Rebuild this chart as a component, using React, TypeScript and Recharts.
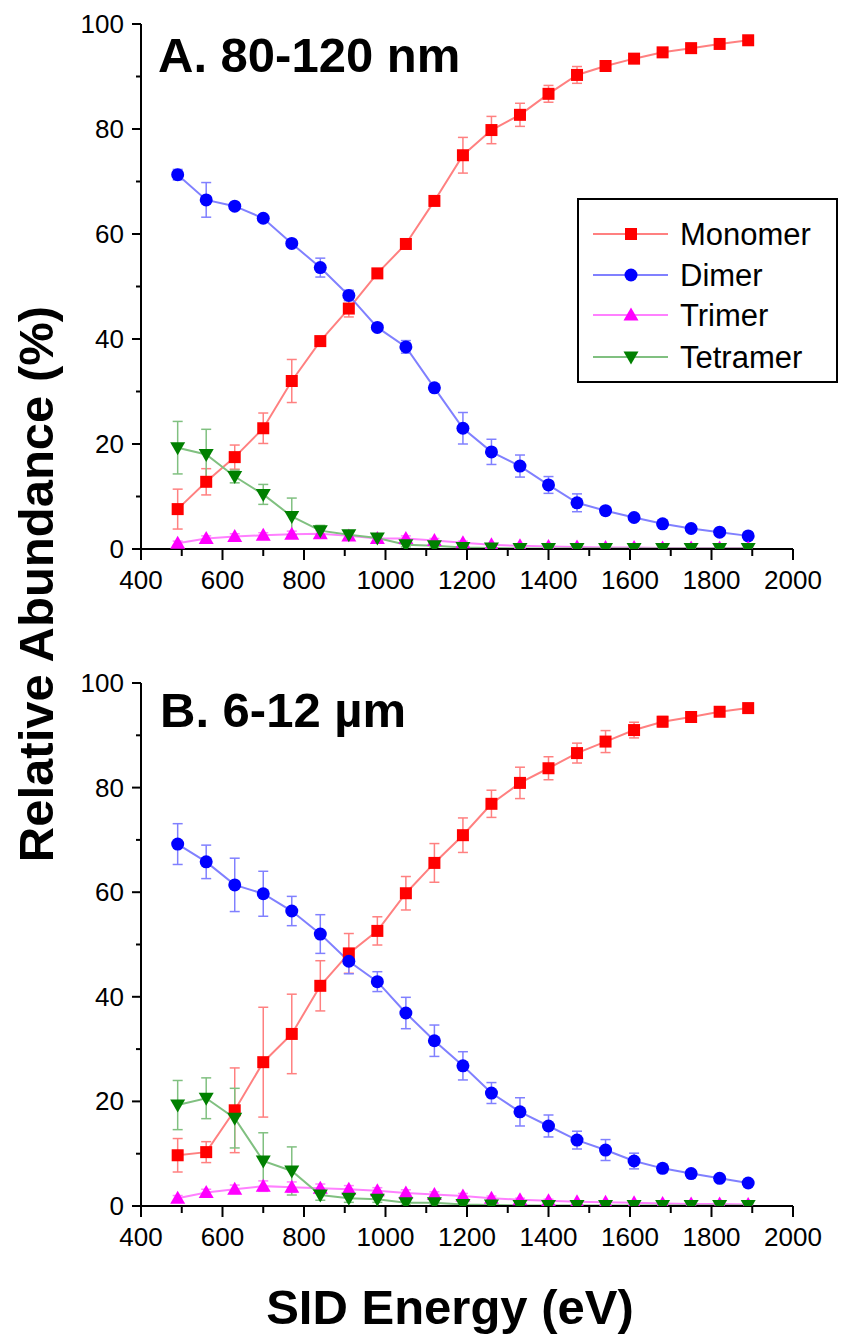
import React from 'react';
import { LineChart, Line, XAxis, YAxis, ErrorBar, Legend } from 'recharts';

// ---------- data ----------
const energies = [490, 560, 630, 700, 770, 840, 910, 980, 1050, 1120, 1190, 1260, 1330, 1400, 1470, 1540, 1610, 1680, 1750, 1820, 1890];

// Panel A: 80-120 nm
const monomerA = [7.6, 12.8, 17.5, 23.0, 32.0, 39.6, 45.8, 52.5, 58.1, 66.3, 75.0, 79.8, 82.7, 86.7, 90.3, 92.0, 93.4, 94.6, 95.4, 96.2, 96.9];
const monomerAErr = [3.8, 2.5, 2.3, 2.9, 4.1, 0.6, 1.6, 0.6, 0.6, 0.6, 3.4, 2.6, 2.2, 1.6, 1.6, 0.6, 0.6, 0.6, 0.5, 0.5, 0.4];
const dimerA = [71.3, 66.5, 65.3, 63.0, 58.2, 53.6, 48.3, 42.2, 38.5, 30.7, 23.0, 18.5, 15.8, 12.2, 8.8, 7.3, 6.0, 4.8, 3.9, 3.2, 2.5];
const dimerAErr = [1.0, 3.3, 0.6, 0.6, 0.6, 1.8, 1.0, 0.6, 1.2, 0.6, 3.0, 2.4, 2.1, 1.6, 1.7, 0.6, 0.5, 0.4, 0.4, 0.3, 0.3];
const trimerA = [1.1, 2.0, 2.4, 2.6, 2.8, 2.9, 2.5, 2.0, 2.0, 1.6, 1.2, 0.8, 0.6, 0.5, 0.4, 0.3, 0.3, 0.2, 0.2, 0.2, 0.2];
const trimerAErr = [0.4, 0.5, 0.5, 0.5, 0.6, 0.6, 0.5, 0.5, 0.5, 0.4, 0.3, 0.2, 0.2, 0.2, 0.1, 0.1, 0.1, 0.1, 0.1, 0.1, 0.1];
const tetramerA = [19.3, 18.0, 13.8, 10.4, 6.2, 3.5, 2.7, 2.1, 0.8, 0.6, 0.3, 0.2, 0.1, 0.1, 0.1, 0.1, 0.1, 0.1, 0.1, 0.1, 0.1];
const tetramerAErr = [5.0, 4.8, 1.2, 1.9, 3.5, 1.0, 0.8, 0.6, 0.4, 0.3, 0.2, 0.1, 0.1, 0.1, 0.1, 0.1, 0.1, 0.1, 0.1, 0.1, 0.1];

// Panel B: 6-12 µm
const monomerB = [9.7, 10.3, 18.3, 27.5, 32.9, 42.1, 48.3, 52.6, 59.8, 65.6, 70.9, 76.9, 80.9, 83.7, 86.6, 88.8, 91.0, 92.6, 93.5, 94.5, 95.2];
const monomerBErr = [3.2, 2.0, 8.1, 10.5, 7.6, 4.8, 3.8, 2.7, 3.2, 3.7, 3.3, 2.6, 3.0, 2.2, 1.9, 2.1, 1.5, 1.0, 0.7, 0.6, 0.5];
const dimerB = [69.2, 65.8, 61.4, 59.7, 56.4, 52.0, 46.8, 42.9, 36.9, 31.6, 26.8, 21.6, 18.0, 15.3, 12.6, 10.7, 8.6, 7.2, 6.2, 5.3, 4.4];
const dimerBErr = [3.9, 3.2, 5.1, 4.3, 2.8, 3.7, 2.4, 1.9, 3.0, 3.0, 2.7, 2.0, 2.7, 2.1, 1.7, 2.0, 1.5, 0.8, 0.6, 0.5, 0.5];
const trimerB = [1.5, 2.6, 3.2, 3.8, 3.6, 3.4, 3.2, 2.9, 2.5, 2.2, 1.9, 1.5, 1.2, 1.0, 0.8, 0.7, 0.6, 0.5, 0.4, 0.4, 0.3];
const trimerBErr = [0.5, 0.6, 0.8, 1.0, 1.0, 0.8, 0.7, 0.6, 0.6, 0.5, 0.5, 0.4, 0.3, 0.3, 0.2, 0.2, 0.2, 0.1, 0.1, 0.1, 0.1];
const tetramerB = [19.3, 20.6, 16.8, 8.6, 6.7, 2.1, 1.5, 1.3, 0.6, 0.6, 0.3, 0.2, 0.1, 0.1, 0.1, 0.1, 0.1, 0.1, 0.1, 0.1, 0.1];
const tetramerBErr = [4.7, 3.9, 5.7, 5.4, 4.6, 1.0, 0.8, 0.6, 0.4, 0.4, 0.3, 0.2, 0.1, 0.1, 0.1, 0.1, 0.1, 0.1, 0.1, 0.1, 0.1];

const xTicks = [400, 500, 600, 700, 800, 900, 1000, 1100, 1200, 1300, 1400, 1500, 1600, 1700, 1800, 1900, 2000];
const yTicks = [0, 10, 20, 30, 40, 50, 60, 70, 80, 90, 100];

const panelATitle = 'A. 80-120 nm';
const panelBTitle = 'B. 6-12 µm';
const xTitle = 'SID Energy (eV)';
const yTitle = 'Relative Abundance (%)';

// ---------- styles ----------
const FONT = '"Liberation Sans", Arial, Helvetica, sans-serif';

const seriesMeta = [
  { key: 'mono', name: 'Monomer', color: '#ff0000', line: '#ff8080', shape: 'square' },
  { key: 'di', name: 'Dimer', color: '#0000ff', line: '#8080ff', shape: 'circle' },
  { key: 'tri', name: 'Trimer', color: '#ff00ff', line: '#ff80ff', shape: 'up' },
  { key: 'tet', name: 'Tetramer', color: '#008000', line: '#80c080', shape: 'down' },
];

function buildData(mono: number[], monoE: number[], di: number[], diE: number[], tri: number[], triE: number[], tet: number[], tetE: number[]) {
  return energies.map((e, i) => ({
    e,
    mono: mono[i], monoErr: monoE[i],
    di: di[i], diErr: diE[i],
    tri: tri[i], triErr: triE[i],
    tet: tet[i], tetErr: tetE[i],
  }));
}

const dataA = buildData(monomerA, monomerAErr, dimerA, dimerAErr, trimerA, trimerAErr, tetramerA, tetramerAErr);
const dataB = buildData(monomerB, monomerBErr, dimerB, dimerBErr, trimerB, trimerBErr, tetramerB, tetramerBErr);

function Marker({ shape, cx, cy, color }: any) {
  if (cx == null || cy == null || isNaN(cx) || isNaN(cy)) return null;
  switch (shape) {
    case 'square':
      return <rect x={cx - 6} y={cy - 6} width={12} height={12} fill={color} />;
    case 'circle':
      return <circle cx={cx} cy={cy} r={6.5} fill={color} />;
    case 'up':
      return <polygon points={`${cx},${cy - 7.5} ${cx + 7.5},${cy + 5.5} ${cx - 7.5},${cy + 5.5}`} fill={color} />;
    default:
      return <polygon points={`${cx},${cy + 7.5} ${cx + 7.5},${cy - 5.5} ${cx - 7.5},${cy - 5.5}`} fill={color} />;
  }
}

const XTick = (props: any) => {
  const { x, y, payload } = props;
  const v = payload.value;
  const major = v % 200 === 0;
  return (
    <g>
      <line x1={x} x2={x} y1={y} y2={y + (major ? 11 : 7)} stroke="#000" strokeWidth={2} />
      {major && (
        <text x={x} y={y + 40} textAnchor="middle" fontSize={26} fontFamily={FONT} fill="#000">
          {v}
        </text>
      )}
    </g>
  );
};

const YTick = (props: any) => {
  const { x, y, payload } = props;
  const v = payload.value;
  const major = v % 20 === 0;
  return (
    <g>
      <line x1={x} x2={x - (major ? 9 : 5)} y1={y} y2={y} stroke="#000" strokeWidth={2} />
      {major && (
        <text x={x - 17} y={y + 9} textAnchor="end" fontSize={26} fontFamily={FONT} fill="#000">
          {v}
        </text>
      )}
    </g>
  );
};

const LegendBox = () => {
  const rows = [36, 77, 117, 159];
  return (
    <svg width={262} height={186} style={{ display: 'block' }}>
      <rect x={1} y={1} width={259} height={183} fill="#fff" stroke="#000" strokeWidth={2} />
      {seriesMeta.map((s, i) => (
        <g key={s.key}>
          <line x1={16} x2={91} y1={rows[i]} y2={rows[i]} stroke={s.line} strokeWidth={2} />
          <Marker shape={s.shape} cx={54} cy={rows[i]} color={s.color} />
          <text x={103} y={rows[i] + 11} fontSize={31} fontFamily={FONT} fill="#000">
            {s.name}
          </text>
        </g>
      ))}
    </svg>
  );
};

function Panel({ data, height, marginTop, xAxisHeight, showLegend }: any) {
  return (
    <LineChart
      width={844}
      height={height}
      data={data}
      margin={{ top: marginTop, right: 51, bottom: 0, left: 0 }}
    >
      <XAxis
        dataKey="e"
        type="number"
        domain={[400, 2000]}
        ticks={xTicks}
        interval={0}
        tickSize={0}
        tickMargin={0}
        tickLine={false}
        axisLine={{ stroke: '#000', strokeWidth: 2 }}
        height={xAxisHeight}
        tick={<XTick />}
        allowDataOverflow
      />
      <YAxis
        type="number"
        domain={[0, 100]}
        ticks={yTicks}
        interval={0}
        tickSize={0}
        tickMargin={0}
        tickLine={false}
        axisLine={{ stroke: '#000', strokeWidth: 2 }}
        width={141}
        tick={<YTick />}
        allowDataOverflow
      />
      {seriesMeta.map((s) => (
        <Line
          key={s.key}
          dataKey={s.key}
          name={s.name}
          type="linear"
          stroke={s.line}
          strokeWidth={2}
          isAnimationActive={false}
          activeDot={false}
          dot={(p: any) => <Marker key={`${s.key}-${p.index}`} shape={s.shape} cx={p.cx} cy={p.cy} color={s.color} />}
        >
          <ErrorBar dataKey={`${s.key}Err`} width={5} stroke={s.line} strokeWidth={1.5} direction="y" isAnimationActive={false} />
        </Line>
      ))}
      {showLegend && (
        <Legend
          layout="horizontal"
          verticalAlign="middle"
          align="center"
          wrapperStyle={{ position: 'absolute', left: 577, top: 198, width: 262, height: 186 }}
          content={() => <LegendBox />}
        />
      )}
    </LineChart>
  );
}

export default function App() {
  return (
    <div style={{ position: 'absolute', left: 0, top: 0, width: 844, height: 1341, background: '#fff', overflow: 'hidden' }}>
      <div style={{ position: 'absolute', left: 0, top: 0 }}>
        <Panel data={dataA} height={620} marginTop={24} xAxisHeight={71} showLegend />
      </div>
      <div style={{ position: 'absolute', left: 0, top: 620 }}>
        <Panel data={dataB} height={721} marginTop={63} xAxisHeight={135} showLegend={false} />
      </div>
      <svg width={844} height={1341} style={{ position: 'absolute', left: 0, top: 0, pointerEvents: 'none' }}>
        <text x={158} y={72} fontSize={49} fontWeight="bold" fontFamily={FONT} fill="#000">{panelATitle}</text>
        <text x={160} y={727} fontSize={49} fontWeight="bold" fontFamily={FONT} fill="#000">{panelBTitle}</text>
        <text x={450} y={1324} fontSize={49} fontWeight="bold" fontFamily={FONT} fill="#000" textAnchor="middle">{xTitle}</text>
        <text
          x={53}
          y={584}
          fontSize={49}
          fontWeight="bold"
          fontFamily={FONT}
          fill="#000"
          textAnchor="middle"
          transform="rotate(-90, 53, 584)"
        >
          {yTitle}
        </text>
      </svg>
    </div>
  );
}
